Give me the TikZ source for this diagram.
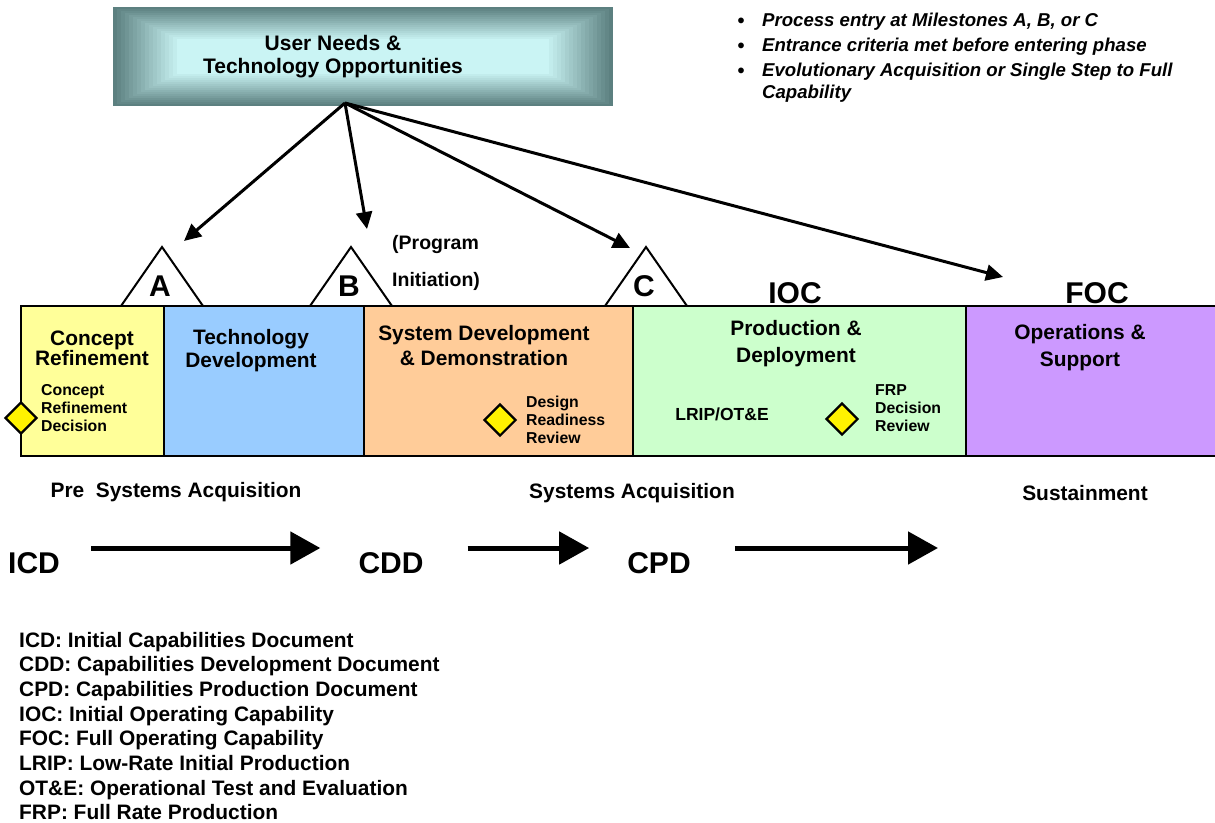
\documentclass[tikz,border=0pt]{standalone}
\usepackage{fontspec}
\setmainfont{Liberation Sans}
\usetikzlibrary{arrows.meta, shapes.geometric, positioning}

\definecolor{crYellow}{HTML}{FFFF99}
\definecolor{tdBlue}{HTML}{99CCFF}
\definecolor{sddOrange}{HTML}{FFCC99}
\definecolor{pdGreen}{HTML}{CCFFCC}
\definecolor{osPurple}{HTML}{CC99FF}
\definecolor{needsDark}{RGB}{92,128,128}
\definecolor{needsLight}{RGB}{202,244,244}

\begin{document}
\begin{tikzpicture}[x=1pt, y=-1pt,
    phase/.style={align=center, inner sep=0pt, font=\bfseries\fontsize{20.9}{#1}\selectfont},
    phase/.default=25,
    small/.style={align=left, inner sep=0pt, anchor=west, font=\bfseries\fontsize{15.8}{18.3}\selectfont},
    label/.style={inner sep=0pt, font=\bfseries\fontsize{20.9}{24}\selectfont},
    bignote/.style={inner sep=0pt, font=\bfseries\fontsize{30}{30}\selectfont},
    decision/.style={diamond, draw=black, line width=2.2pt, fill=yellow, minimum size=32pt, inner sep=0pt},
    feed/.style={line width=3pt, -{Triangle[length=17pt, width=16pt]}},
    doc/.style={line width=5pt, -{Triangle[length=30pt, width=32pt]}}]
  \useasboundingbox (0,0) rectangle (1215,822);

  % user needs box, lighter towards the middle
  \foreach \i [evaluate=\i as \p using int(100*\i/16)] in {0,...,16}
    \fill[needsLight!\p!needsDark] ({113+4*\i}, {7+2*\i}) rectangle ({613-4*\i}, {106-2*\i});
  \node[label, align=center, font=\bfseries\fontsize{21}{23}\selectfont] (needs) at (333,57)
    {User Needs \&\\Technology Opportunities};

  % notes
  \foreach \t [count=\i] in {{Process entry at Milestones A, B, or C},
      {Entrance criteria met before entering phase},
      {Evolutionary Acquisition or Single Step to Full}} {
    \node[anchor=base, inner sep=0pt, font=\bfseries\fontsize{20}{20}\selectfont] (dot\i) at (741, {27+25*(\i-1)}) {\textbullet};
    \node[anchor=base west, inner sep=0pt, font=\bfseries\itshape\fontsize{18.6}{20}\selectfont] (note\i) at (762, {26+25*(\i-1)}) {\t};
  }
  \node[anchor=base west, inner sep=0pt, font=\bfseries\itshape\fontsize{18.6}{20}\selectfont] (note4) at (762,98) {Capability};

  % milestones
  \foreach \x/\m in {162/A, 351/B, 646/C} {
    \draw[line width=2pt, fill=white] ({\x-41},306) -- (\x,247) -- ({\x+41},306);
    \node[bignote] (ms\m) at ({\x-2},286) {\m};
  }

  % phases
  \foreach \a/\b/\c in {21/164/crYellow, 164/364/tdBlue, 364/633/sddOrange, 633/966/pdGreen, 966/1220/osPurple}
    \filldraw[fill=\c, draw=black, line width=1.5pt] (\a,306) rectangle (\b,456);

  \node[phase=20] (cr) at (92,348) {Concept\\Refinement};
  \node[phase=23] (td) at (251,350.5) {Technology\\Development};
  \node[phase=25] (sdd) at (484,345.5) {System Development\\\& Demonstration};
  \node[phase=27] (pd) at (796,343.5) {Production \&\\Deployment};
  \node[phase=27] (os) at (1080,347.5) {Operations \&\\Support};
  \node[inner sep=0pt, font=\bfseries\fontsize{17.5}{20}\selectfont] (lrip) at (722,414) {LRIP/OT\&E};

  \node[decision] (crd) at (21,418) {};
  \node[decision] (drr) at (500,420) {};
  \node[decision] (frp) at (842,419) {};
  \node[small] (crdText) at (41,408) {Concept\\Refinement\\Decision};
  \node[small] (drrText) at (526,420) {Design\\Readiness\\Review};
  \node[small] (frpText) at (875,408) {FRP\\Decision\\Review};

  \node[inner sep=0pt, anchor=west, font=\bfseries\fontsize{19.5}{20}\selectfont] (prog) at (392,244) {(Program};
  \node[inner sep=0pt, anchor=west, font=\bfseries\fontsize{19.5}{20}\selectfont] (init) at (392,281) {Initiation)};
  \node[bignote] (ioc) at (795,293) {IOC};
  \node[bignote] (foc) at (1097,293) {FOC};

  % entry arrows
  \coordinate (src) at (345,103);
  \coordinate (toA) at (184,241);
  \coordinate (toB) at (367,229);
  \coordinate (toC) at (630,248);
  \coordinate (toFoc) at (1003,277);
  \foreach \t in {toA, toB, toC, toFoc}
    \draw[feed] (src) -- (\t);

  % acquisition
  \node[label] (pre) at (176,492) {Pre\ \ Systems Acquisition};
  \node[label] (sys) at (632,493) {Systems Acquisition};
  \node[label] (sus) at (1085,493) {Sustainment};

  \node[bignote] (icd) at (34,563) {ICD};
  \node[bignote] (cdd) at (391,563) {CDD};
  \node[bignote] (cpd) at (659,563) {CPD};
  \coordinate (docEnd) at (938,548);
  \draw[doc] ([shift={(31,-15)}]icd.east) -- ([shift={(-38,-15)}]cdd.west);
  \draw[doc] ([shift={(44,-15)}]cdd.east) -- ([shift={(-38,-15)}]cpd.west);
  \draw[doc] ([shift={(44,-15)}]cpd.east) -- (docEnd);

  % abbreviations
  \foreach \t [count=\i] in {ICD: Initial Capabilities Document,
      CDD: Capabilities Development Document,
      CPD: Capabilities Production Document,
      IOC: Initial Operating Capability,
      FOC: Full Operating Capability,
      LRIP: Low-Rate Initial Production,
      OT\&E: Operational Test and Evaluation,
      FRP: Full Rate Production}
    \node[label, anchor=base west] (abbr\i) at (19, {647+24.7*(\i-1)}) {\t};
\end{tikzpicture}
\end{document}
